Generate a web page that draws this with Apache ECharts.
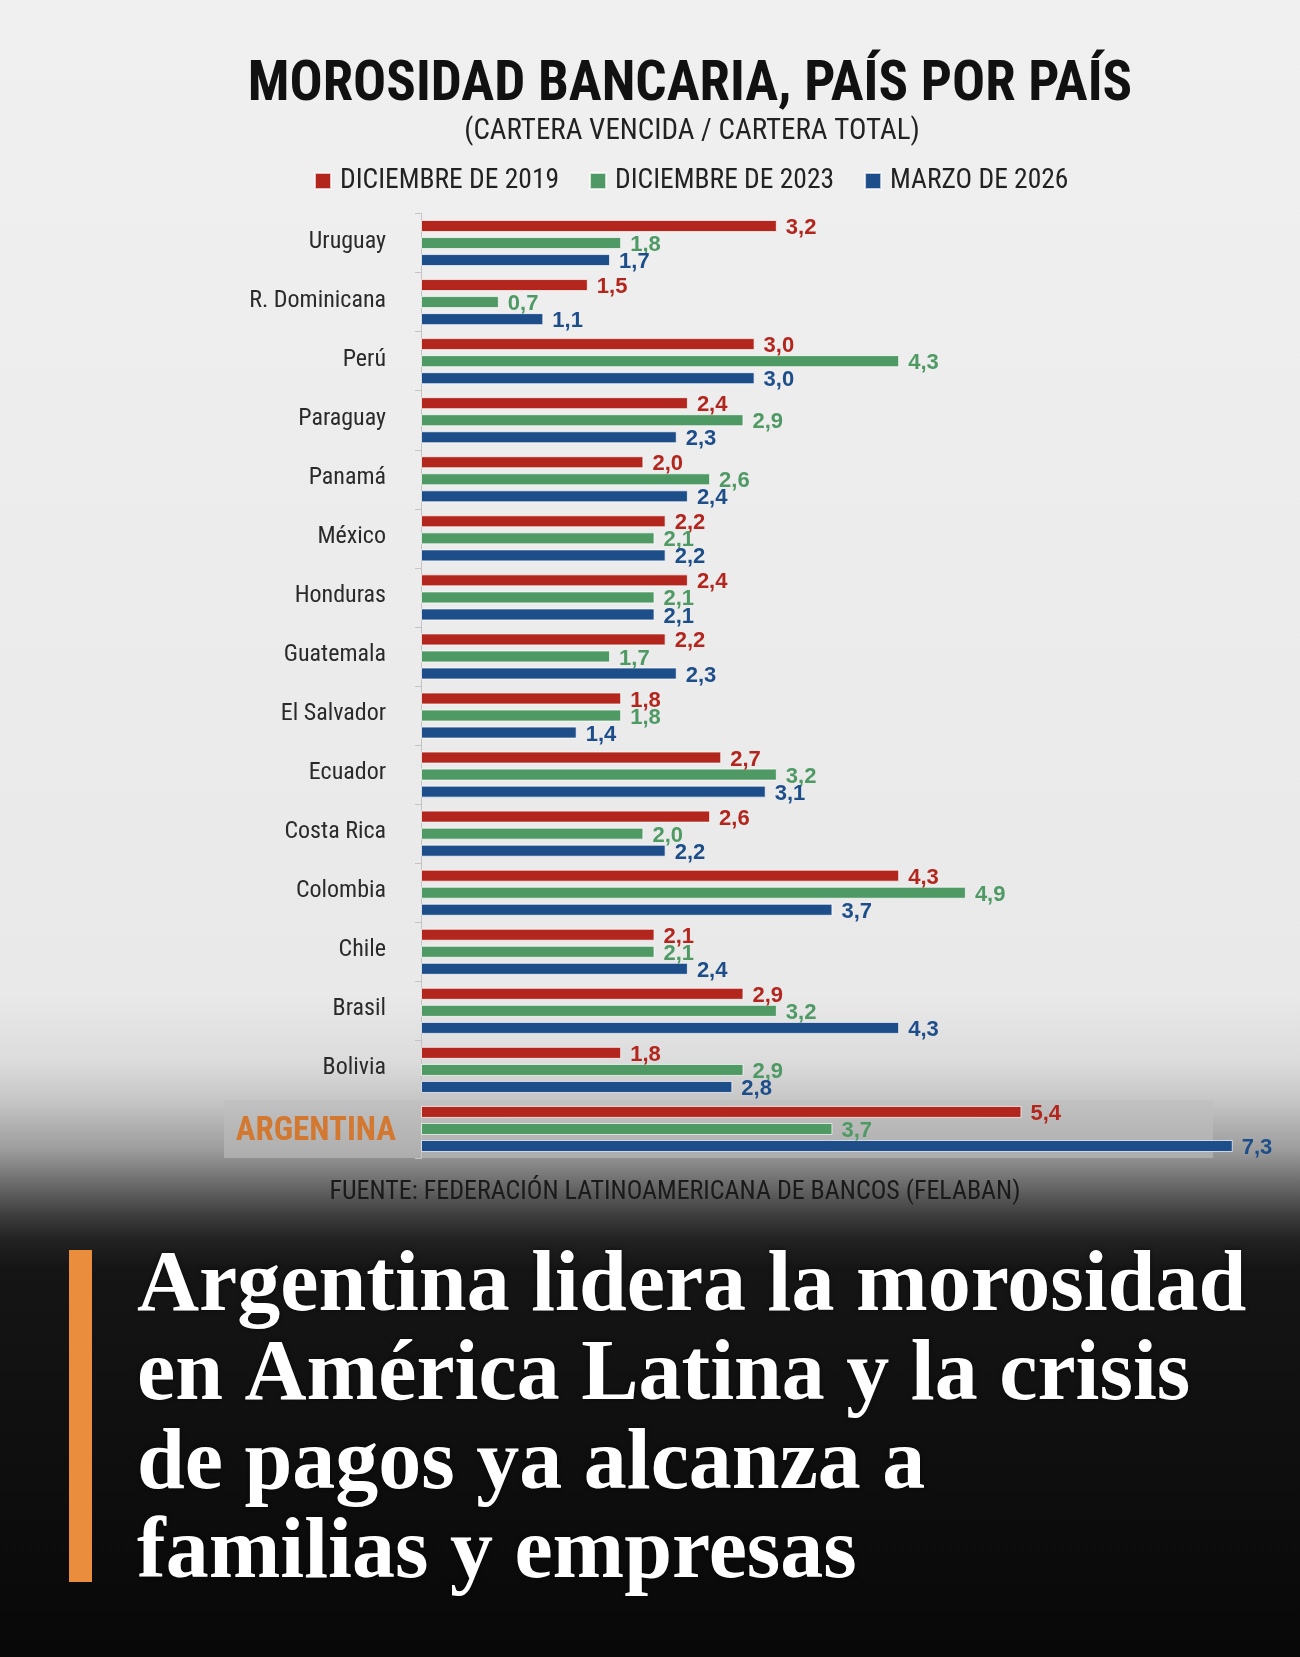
<!DOCTYPE html>
<html lang="es">

<head>
    <meta charset="UTF-8">
    <title>Morosidad bancaria</title>
    <style>
        * {
            margin: 0;
            padding: 0;
        }

        #main {
            width: 1300px;
            height: 1657px;
        }
    </style>
</head>
<script src="https://cdn.jsdelivr.net/npm/echarts/dist/echarts.min.js"></script>

<body>
    <div id="main"></div>
    <script>
        // datos (% cartera vencida / cartera total)
        var paises = ['Uruguay', 'R. Dominicana', 'Perú', 'Paraguay', 'Panamá', 'México', 'Honduras', 'Guatemala',
            'El Salvador', 'Ecuador', 'Costa Rica', 'Colombia', 'Chile', 'Brasil', 'Bolivia', 'ARGENTINA'];
        var dic2019 = [3.2, 1.5, 3.0, 2.4, 2.0, 2.2, 2.4, 2.2, 1.8, 2.7, 2.6, 4.3, 2.1, 2.9, 1.8, 5.4];
        var dic2023 = [1.8, 0.7, 4.3, 2.9, 2.6, 2.1, 2.1, 1.7, 1.8, 3.2, 2.0, 4.9, 2.1, 3.2, 2.9, 3.7];
        var mar2026 = [1.7, 1.1, 3.0, 2.3, 2.4, 2.2, 2.1, 2.3, 1.4, 3.1, 2.2, 3.7, 2.4, 4.3, 2.8, 7.3];
        var nombresSeries = ['DICIEMBRE DE 2019', 'DICIEMBRE DE 2023', 'MARZO DE 2026'];
        var colores = ['#b3261e', '#4f9a64', '#1e4e8a'];

        var titulo = 'MOROSIDAD BANCARIA, PAÍS POR PAÍS';
        var subtitulo = '(CARTERA VENCIDA / CARTERA TOTAL)';
        var fuente = 'FUENTE: FEDERACIÓN LATINOAMERICANA DE BANCOS (FELABAN)';
        var titular = ['Argentina lidera la morosidad', 'en América Latina y la crisis', 'de pagos ya alcanza a',
            'familias y empresas'];

        var narrow = '"Liberation Sans Narrow", "Roboto Condensed", "DejaVu Sans Condensed", "Liberation Sans", sans-serif';

        var chartDom = document.getElementById('main');
        var myChart = echarts.init(chartDom);

        function serie(nombre, datos, color) {
            return {
                name: nombre,
                type: 'bar',
                data: datos,
                barWidth: 12,
                barGap: '42%',
                itemStyle: {
                    color: color,
                    borderColor: 'rgba(255,255,255,0.7)',
                    borderWidth: 1
                },
                label: {
                    show: true,
                    position: 'right',
                    distance: 9,
                    offset: [0, 2],
                    color: color,
                    fontFamily: '"Liberation Sans", Arial, sans-serif',
                    fontWeight: 'bold',
                    fontSize: 22,
                    formatter: function (p) {
                        return p.value.toFixed(1).replace('.', ',');
                    }
                }
            };
        }

        var graficos = [
            {
                type: 'rect',
                shape: { x: 224, y: 1100, width: 989, height: 58 },
                style: { fill: 'rgba(190,190,190,0.6)' },
                z: -10
            },
            {
                type: 'text',
                style: {
                    text: titulo, x: 690, y: 86, align: 'center', verticalAlign: 'middle',
                    font: 'bold 55px ' + narrow, fill: '#111'
                }
            },
            {
                type: 'text',
                style: {
                    text: subtitulo, x: 692, y: 132, align: 'center', verticalAlign: 'middle',
                    font: '29px ' + narrow, fill: '#222'
                }
            },
            {
                type: 'text',
                style: {
                    text: fuente, x: 675, y: 1192, align: 'center', verticalAlign: 'middle',
                    font: '26px ' + narrow, fill: '#1a1a1a'
                }
            },
            {
                type: 'rect',
                shape: { x: 69, y: 1250, width: 23, height: 332 },
                style: { fill: '#ea8d3c' }
            }
        ];
        titular.forEach(function (linea, i) {
            graficos.push({
                type: 'text',
                style: {
                    text: linea, x: 137, y: 1288 + i * 89, align: 'left', verticalAlign: 'middle',
                    font: 'bold 86px "Liberation Serif", "DejaVu Serif", serif', fill: '#ffffff',
                    textShadowColor: 'rgba(0,0,0,0.6)', textShadowBlur: 4
                }
            });
        });

        var option = {
            backgroundColor: new echarts.graphic.LinearGradient(0, 0, 0, 1, [
                { offset: 0, color: '#f0f0f0' },
                { offset: 0.6, color: '#e9e9e9' },
                { offset: 0.64, color: '#dcdcdc' },
                { offset: 0.664, color: '#c6c6c6' },
                { offset: 0.694, color: '#9c9c9c' },
                { offset: 0.714, color: '#6c6c6c' },
                { offset: 0.734, color: '#3c3c3c' },
                { offset: 0.748, color: '#222222' },
                { offset: 0.765, color: '#151515' },
                { offset: 1, color: '#080808' }
            ]),
            animation: false,
            legend: {
                data: nombresSeries,
                left: 314,
                top: 167,
                padding: 0,
                icon: 'rect',
                itemWidth: 16,
                itemHeight: 16,
                itemGap: 30,
                textStyle: {
                    fontFamily: narrow,
                    fontSize: 27.5,
                    color: '#222',
                    padding: [0, 0, 0, 4]
                }
            },
            grid: {
                left: 421,
                right: 45,
                top: 213.5,
                bottom: 498.5
            },
            xAxis: {
                type: 'value',
                min: 0,
                max: 7.5,
                show: false
            },
            yAxis: {
                type: 'category',
                inverse: true,
                data: paises,
                axisLine: { show: true, lineStyle: { color: '#c4c4c4', width: 1 } },
                axisTick: { show: true, length: 6, lineStyle: { color: '#c4c4c4' } },
                axisLabel: {
                    margin: 25,
                    formatter: function (v) {
                        return v === 'ARGENTINA' ? '{arg|' + v + '}' : '{c|' + v + '}';
                    },
                    rich: {
                        c: { fontFamily: narrow, fontSize: 24, color: '#2a2a2a', padding: [0, 10, 3, 0] },
                        arg: { fontFamily: narrow, fontSize: 33, fontWeight: 'bold', color: '#d27830', padding: [6, 0, 0, 0] }
                    }
                }
            },
            graphic: graficos,
            series: [
                serie(nombresSeries[0], dic2019, colores[0]),
                serie(nombresSeries[1], dic2023, colores[1]),
                serie(nombresSeries[2], mar2026, colores[2])
            ]
        };
        option && myChart.setOption(option);
    </script>
</body>

</html>
